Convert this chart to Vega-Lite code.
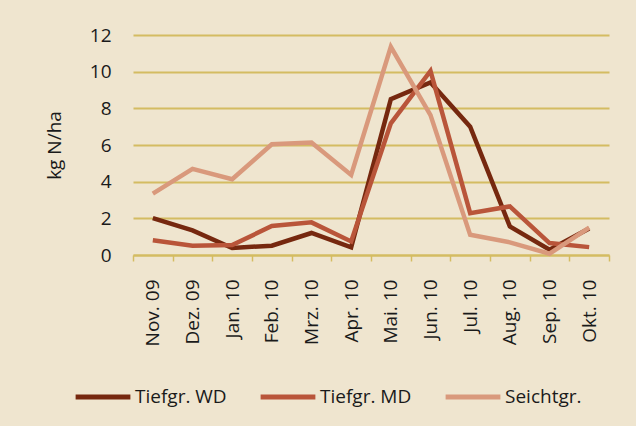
{
  "$schema": "https://vega.github.io/schema/vega-lite/v6.json",
  "autosize": "none",
  "width": 476,
  "height": 220,
  "padding": {"left": 133, "top": 35, "right": 27, "bottom": 171},
  "background": "#EFE5CF",
  "config": {
    "view": {"stroke": null},
    "font": "Open Sans",
    "axis": {"labelFont": "Open Sans", "titleFont": "Open Sans", "labelColor": "#1a1a1a", "titleColor": "#1a1a1a"}
  },
  "data": {
    "values": [
      {"Monat": "Nov. 09", "Serie": "Tiefgr. WD", "Wert": 2.01},
      {"Monat": "Dez. 09", "Serie": "Tiefgr. WD", "Wert": 1.34},
      {"Monat": "Jan. 10", "Serie": "Tiefgr. WD", "Wert": 0.38},
      {"Monat": "Feb. 10", "Serie": "Tiefgr. WD", "Wert": 0.51},
      {"Monat": "Mrz. 10", "Serie": "Tiefgr. WD", "Wert": 1.2},
      {"Monat": "Apr. 10", "Serie": "Tiefgr. WD", "Wert": 0.42},
      {"Monat": "Mai. 10", "Serie": "Tiefgr. WD", "Wert": 8.5},
      {"Monat": "Jun. 10", "Serie": "Tiefgr. WD", "Wert": 9.41},
      {"Monat": "Jul. 10", "Serie": "Tiefgr. WD", "Wert": 7.0},
      {"Monat": "Aug. 10", "Serie": "Tiefgr. WD", "Wert": 1.56},
      {"Monat": "Sep. 10", "Serie": "Tiefgr. WD", "Wert": 0.29},
      {"Monat": "Okt. 10", "Serie": "Tiefgr. WD", "Wert": 1.45},
      {"Monat": "Nov. 09", "Serie": "Tiefgr. MD", "Wert": 0.8},
      {"Monat": "Dez. 09", "Serie": "Tiefgr. MD", "Wert": 0.51},
      {"Monat": "Jan. 10", "Serie": "Tiefgr. MD", "Wert": 0.54},
      {"Monat": "Feb. 10", "Serie": "Tiefgr. MD", "Wert": 1.58},
      {"Monat": "Mrz. 10", "Serie": "Tiefgr. MD", "Wert": 1.78},
      {"Monat": "Apr. 10", "Serie": "Tiefgr. MD", "Wert": 0.74},
      {"Monat": "Mai. 10", "Serie": "Tiefgr. MD", "Wert": 7.18},
      {"Monat": "Jun. 10", "Serie": "Tiefgr. MD", "Wert": 10.04},
      {"Monat": "Jul. 10", "Serie": "Tiefgr. MD", "Wert": 2.28},
      {"Monat": "Aug. 10", "Serie": "Tiefgr. MD", "Wert": 2.65},
      {"Monat": "Sep. 10", "Serie": "Tiefgr. MD", "Wert": 0.65},
      {"Monat": "Okt. 10", "Serie": "Tiefgr. MD", "Wert": 0.43},
      {"Monat": "Nov. 09", "Serie": "Seichtgr.", "Wert": 3.35},
      {"Monat": "Dez. 09", "Serie": "Seichtgr.", "Wert": 4.7},
      {"Monat": "Jan. 10", "Serie": "Seichtgr.", "Wert": 4.13},
      {"Monat": "Feb. 10", "Serie": "Seichtgr.", "Wert": 6.04},
      {"Monat": "Mrz. 10", "Serie": "Seichtgr.", "Wert": 6.13},
      {"Monat": "Apr. 10", "Serie": "Seichtgr.", "Wert": 4.37},
      {"Monat": "Mai. 10", "Serie": "Seichtgr.", "Wert": 11.35},
      {"Monat": "Jun. 10", "Serie": "Seichtgr.", "Wert": 7.63},
      {"Monat": "Jul. 10", "Serie": "Seichtgr.", "Wert": 1.1},
      {"Monat": "Aug. 10", "Serie": "Seichtgr.", "Wert": 0.69},
      {"Monat": "Sep. 10", "Serie": "Seichtgr.", "Wert": 0.07},
      {"Monat": "Okt. 10", "Serie": "Seichtgr.", "Wert": 1.49}
    ]
  },
  "mark": {"type": "line", "strokeWidth": 4.5, "strokeJoin": "miter"},
  "encoding": {
    "x": {
      "field": "Monat", "type": "ordinal", "sort": null,
      "scale": {"type": "band", "paddingInner": 0, "paddingOuter": 0},
      "axis": {
        "title": null, "labelAngle": -90, "labelFontSize": 19, "labelPadding": 18,
        "domainColor": "#D4BC62", "domainWidth": 2, "tickColor": "#D4BC62", "tickWidth": 1.5, "tickSize": 6,
        "tickBand": "extent", "grid": false
      }
    },
    "y": {
      "field": "Wert", "type": "quantitative",
      "scale": {"domain": [0, 12], "nice": false},
      "axis": {
        "title": "kg N/ha", "titleFontSize": 19, "titleFontWeight": "normal", "titlePadding": 25,
        "labelFontSize": 19, "labelPadding": 22, "values": [0, 2, 4, 6, 8, 10, 12],
        "domain": false, "ticks": false, "grid": true, "gridColor": "#D4BC62", "gridWidth": 2
      }
    },
    "color": {
      "field": "Serie", "type": "nominal",
      "scale": {"domain": ["Tiefgr. WD", "Tiefgr. MD", "Seichtgr."], "range": ["#76280F", "#B9553A", "#D9997C"]},
      "legend": {
        "title": null, "orient": "none", "legendX": -60, "legendY": 332, "direction": "horizontal",
        "symbolType": "stroke", "symbolSize": 3000, "symbolStrokeWidth": 5,
        "labelFontSize": 19, "labelFont": "Open Sans", "labelColor": "#1a1a1a", "labelOffset": 2,
        "columnPadding": 23, "gridAlign": "all"
      }
    }
  }
}
